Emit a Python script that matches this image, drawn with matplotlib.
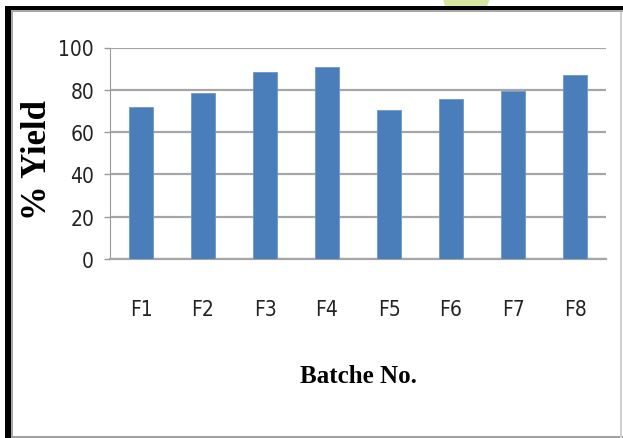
import matplotlib
matplotlib.use('Agg')
import matplotlib.pyplot as plt
from matplotlib.patches import Rectangle, Polygon

# batch yields (%)
batches = ['F1', 'F2', 'F3', 'F4', 'F5', 'F6', 'F7', 'F8']
yields = [72.0, 78.6, 88.3, 90.6, 70.4, 75.6, 79.6, 86.8]
y_ticks = [0, 20, 40, 60, 80, 100]

W, H = 623, 439
fig = plt.figure(figsize=(W / 100, H / 100), dpi=100)
fig.patch.set_facecolor('white')


def px(x, y):
    # pixel position (from top-left) -> figure fraction
    return x / W, 1 - y / H


# frame round the chart
fig.add_artist(Polygon([px(443, 0), px(490, 0), px(487, 7), px(445, 7)],
                       closed=True, transform=fig.transFigure,
                       facecolor='#d5e6a1', edgecolor='none'))
fig.add_artist(Rectangle(px(5, 439), 6 / W, 432 / H, transform=fig.transFigure,
                         facecolor='black', edgecolor='none'))
fig.add_artist(Rectangle(px(11, 439), 2 / W, 428 / H, transform=fig.transFigure,
                         facecolor='#a8a8a8', edgecolor='none'))
fig.add_artist(Rectangle(px(5, 11), 618 / W, 4 / H, transform=fig.transFigure,
                         facecolor='black', edgecolor='none'))
fig.add_artist(Rectangle(px(11, 13), 612 / W, 2 / H, transform=fig.transFigure,
                         facecolor='#a8a8a8', edgecolor='none'))
fig.add_artist(Rectangle(px(11, 439), 612 / W, 2 / H, transform=fig.transFigure,
                         facecolor='#a0a0a0', edgecolor='none'))
fig.add_artist(Rectangle(px(620, 439), 2 / W, 426 / H, transform=fig.transFigure,
                         facecolor='#d0d0d0', edgecolor='none'))

left, right = 110 / W, 606 / W
bottom, top = 1 - 260 / H, 1 - 48.5 / H
ax = fig.add_axes([left, bottom, right - left, top - bottom])

x = range(len(batches))
ax.bar(x, yields, width=0.39, color='#4a7ebb', edgecolor='#6f97cb',
       linewidth=0.6, zorder=3)

ax.set_xlim(-0.5, len(batches) - 0.5)
ax.set_ylim(0, 100)
ax.set_yticks(y_ticks)
ax.yaxis.grid(True, color='#a6a6a6', linewidth=1.6, zorder=0)
ax.set_axisbelow(True)

for s in ['top', 'right']:
    ax.spines[s].set_visible(False)
ax.spines['left'].set_color('#9a9a9a')
ax.spines['bottom'].set_color('#a6a6a6')
ax.spines['bottom'].set_linewidth(1.6)

ax.set_xticks(list(x))
ax.set_xticklabels(batches, family='DejaVu Sans', stretch='condensed',
                   fontsize=15, color='#222222')
ax.set_yticklabels([str(v) for v in y_ticks], family='DejaVu Sans',
                   stretch='condensed', fontsize=15, color='#222222')
ax.tick_params(axis='x', length=0, pad=29)
ax.tick_params(axis='y', length=4.5, width=1.0, color='#9a9a9a', pad=7)

fig.text(*px(358, 377), 'Batche No.', ha='center', va='center',
         family='Liberation Serif', fontweight='bold', fontsize=18)
fig.text(*px(37, 160), '% Yield', ha='center', va='center', rotation=90,
         family='Liberation Serif', fontweight='bold', fontsize=25)

fig.savefig('out.png', dpi=100)
